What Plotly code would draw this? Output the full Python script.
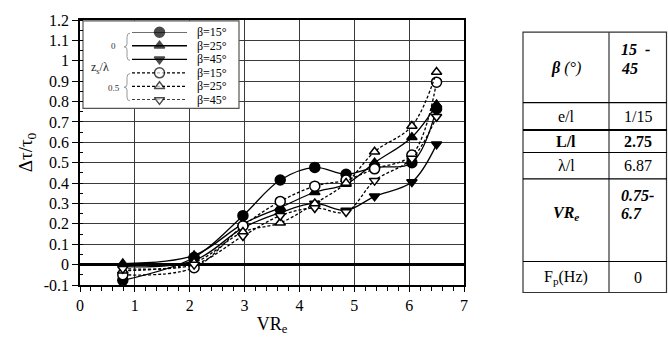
import plotly.graph_objects as go

# ---------------- data ----------------
VR = [0.78, 2.08, 2.97, 3.65, 4.28, 4.85, 5.37, 6.05, 6.5]
solid_b15 = [-0.077, 0.035, 0.24, 0.415, 0.477, 0.443, 0.477, 0.50, 0.765]
solid_b25 = [0.005, 0.045, 0.20, 0.28, 0.355, 0.395, 0.50, 0.625, 0.785]
solid_b45 = [-0.01, 0.02, 0.18, 0.255, 0.30, 0.266, 0.335, 0.405, 0.59]
dash_b15 = [-0.05, -0.015, 0.19, 0.31, 0.385, 0.415, 0.47, 0.538, 0.895]
dash_b25 = [-0.03, 0.01, 0.16, 0.205, 0.30, 0.40, 0.554, 0.68, 0.945]
dash_b45 = [-0.02, 0.0, 0.14, 0.24, 0.278, 0.258, 0.412, 0.52, 0.725]

series_names = ["β=15°", "β=25°", "β=45°", "β=15°", "β=25°", "β=45°"]
series_values = [solid_b15, solid_b25, solid_b45, dash_b15, dash_b25, dash_b45]
group_labels = ["0", "0.5"]

x_tickvals = [0, 1, 2, 3, 4, 5, 6, 7]
x_ticktext = ["0", "1", "2", "3", "4", "5", "6", "7"]
y_tickvals = [-0.1, 0, 0.1, 0.2, 0.3, 0.4, 0.5, 0.6, 0.7, 0.8, 0.9, 1.0, 1.1, 1.2]
y_ticktext = ["-0.1", "0", "0.1", "0.2", "0.3", "0.4", "0.5", "0.6", "0.7", "0.8", "0.9", "1", "1.1", "1.2"]

table_labels = ["<b><i>β</i></b><i> (°)</i>", "e/l", "<b>L/l</b>", "λ/l",
                "<b><i>VR<sub>e</sub></i></b>", "F<sub>p</sub>(Hz)"]
table_values = [["<b><i>15  -</i></b>", "<b><i>45</i></b>"], ["1/15"], ["<b>2.75</b>"], ["6.87"],
                ["<b><i>0.75-</i></b>", "<b><i>6.7</i></b>"], ["0"]]

# ---------------- styles ----------------
FONT = "Liberation Serif, Times New Roman, serif"
W, H = 668, 343
L, R, T, B = 80, 464, 15, 297


def px(x):
    return (x - L) / (R - L)


def py(y):
    return (B - y) / (B - T)


symbols = ["circle", "triangle-up", "triangle-down", "circle", "triangle-up", "triangle-down"]
sizes = [10, 9, 9, 10, 9, 9]
fills = ["black"] * 3 + ["white"] * 3
dashes = ["solid"] * 3 + ["3px,2px"] * 3

fig = go.Figure()
for i, (name, vals) in enumerate(zip(series_names, series_values)):
    fig.add_trace(go.Scatter(
        x=VR, y=vals, mode="lines+markers", name=name, showlegend=False,
        line=dict(color="black", width=1.3, dash=dashes[i], shape="spline", smoothing=1),
        marker=dict(symbol=symbols[i], size=sizes[i], color=fills[i],
                    line=dict(color="black", width=1.5)),
        cliponaxis=False,
    ))

# legend samples drawn on an auxiliary axis pair (rows = series index)
for i, name in enumerate(series_names):
    fig.add_trace(go.Scatter(
        x=[0, 0.5, 1], y=[i, i, i], mode="lines+markers", showlegend=False,
        xaxis="x2", yaxis="y2", hoverinfo="skip", cliponaxis=False,
        line=dict(color="black", width=1.3, dash=dashes[i]),
        marker=dict(symbol=symbols[i], size=[0, sizes[i], 0],
                    color=fills[i], line=dict(color="black", width=1.5)),
    ))
    fig.add_annotation(x=1, y=i, xref="x2", yref="y2", text=name, showarrow=False,
                       xanchor="left", yanchor="middle", xshift=8,
                       font=dict(family=FONT, size=12, color="black"))

shapes = []
annotations = []

# legend box (white fill over gridlines)
shapes.append(dict(type="rect", xref="x", yref="y", layer="between",
                   x0=(83 - L) / (R - L) * 7, x1=(239 - L) / (R - L) * 7,
                   y0=1.2 - (109 - T) / (B - T) * 1.3, y1=1.2 - (16 - T) / (B - T) * 1.3,
                   fillcolor="white", line=dict(color="#555", width=1.2)))


# braces
def brace(xp, y0, y1):
    ym = (y0 + y1) / 2
    d = 3
    path = (f"M {px(xp+d)},{py(y0)} Q {px(xp)},{py(y0)} {px(xp)},{py(y0+4)} "
            f"L {px(xp)},{py(ym-3)} Q {px(xp)},{py(ym)} {px(xp-d)},{py(ym)} "
            f"Q {px(xp)},{py(ym)} {px(xp)},{py(ym+3)} L {px(xp)},{py(y1-4)} "
            f"Q {px(xp)},{py(y1)} {px(xp+d)},{py(y1)}")
    return dict(type="path", xref="paper", yref="paper", path=path,
                line=dict(color="#999", width=1))


shapes.append(brace(127, 29, 58))
shapes.append(brace(127, 72, 101))


def ann(xp, yp, text, size, anchor="center", color="black"):
    return dict(x=px(xp), y=py(yp), xref="paper", yref="paper", text=text, showarrow=False,
                xanchor=anchor, yanchor="middle", font=dict(family=FONT, size=size, color=color))


annotations.append(ann(113, 43, group_labels[0], 9, color="#333"))
annotations.append(ann(114, 87, group_labels[1], 9, color="#333"))
annotations.append(ann(100, 66, "z<sub>s</sub>/λ", 12, color="#222"))

# table
tl, tm, tr = 523, 609, 667
rows = [28, 103, 132, 156, 184, 272, 305]
shapes.append(dict(type="rect", xref="paper", yref="paper", x0=px(tl), x1=px(tr - 0.5),
                   y0=py(rows[-1]), y1=py(rows[0]), line=dict(color="#333", width=1.2)))
shapes.append(dict(type="line", xref="paper", yref="paper", x0=px(tm), x1=px(tm),
                   y0=py(rows[-1]), y1=py(rows[0]), line=dict(color="#333", width=1.2)))
for k, yy in enumerate(rows[1:-1]):
    shapes.append(dict(type="line", xref="paper", yref="paper", x0=px(tl), x1=px(tr),
                       y0=py(yy), y1=py(yy), line=dict(color="black", width=2 if k == 1 else 1.2)))

label_y = [66, None, None, None, 221, None]
value_y = [[46, 67], None, None, None, [202, 221], None]
for k, lab in enumerate(table_labels):
    ymid = (rows[k] + rows[k + 1]) / 2
    ly = label_y[k] if label_y[k] is not None else ymid
    annotations.append(ann((tl + tm) / 2, ly, lab, 16))
    vals = table_values[k]
    if value_y[k] is None:
        annotations.append(ann((tm + tr) / 2, ymid, vals[0], 16))
    else:
        for v, yv in zip(vals, value_y[k]):
            annotations.append(ann(619, yv, v, 16, anchor="left"))

for a in annotations:
    fig.add_annotation(**a)

fig.update_layout(
    width=W, height=H,
    margin=dict(l=L, r=W - R, t=T, b=H - B),
    paper_bgcolor="white", plot_bgcolor="white",
    font=dict(family=FONT, size=16, color="black"),
    shapes=shapes,
    xaxis=dict(range=[0, 7], tickvals=x_tickvals, ticktext=x_ticktext,
               showgrid=True, gridcolor="#3a3a3a", gridwidth=1, zeroline=False,
               showline=True, linecolor="black", linewidth=1.5, mirror=True,
               ticks="outside", ticklen=5, tickcolor="black",
               minor=dict(dtick=0.2, ticks="outside", ticklen=4, tickcolor="black", showgrid=False),
               tickfont=dict(family=FONT, size=16),
               title=dict(text="VR<sub>e</sub>", font=dict(family=FONT, size=18), standoff=4)),
    yaxis=dict(range=[-0.1, 1.2], tickvals=y_tickvals, ticktext=y_ticktext,
               showgrid=True, gridcolor="#3a3a3a", gridwidth=1,
               zeroline=True, zerolinecolor="black", zerolinewidth=2.5,
               showline=True, linecolor="black", linewidth=1.5, mirror=True,
               ticks="outside", ticklen=6, tickcolor="black",
               minor=dict(dtick=0.05, ticks="inside", ticklen=3, tickcolor="black", showgrid=False),
               tickfont=dict(family=FONT, size=16),
               title=dict(text="Δτ/τ<sub>0</sub>", font=dict(family=FONT, size=19), standoff=6)),
    xaxis2=dict(domain=[px(132), px(187)], range=[0, 1], visible=False, anchor="y2",
                fixedrange=True),
    yaxis2=dict(domain=[py(100), py(28)], range=[5, 0], visible=False, anchor="x2",
                fixedrange=True),
    showlegend=False,
)

fig.write_html("out.html")
